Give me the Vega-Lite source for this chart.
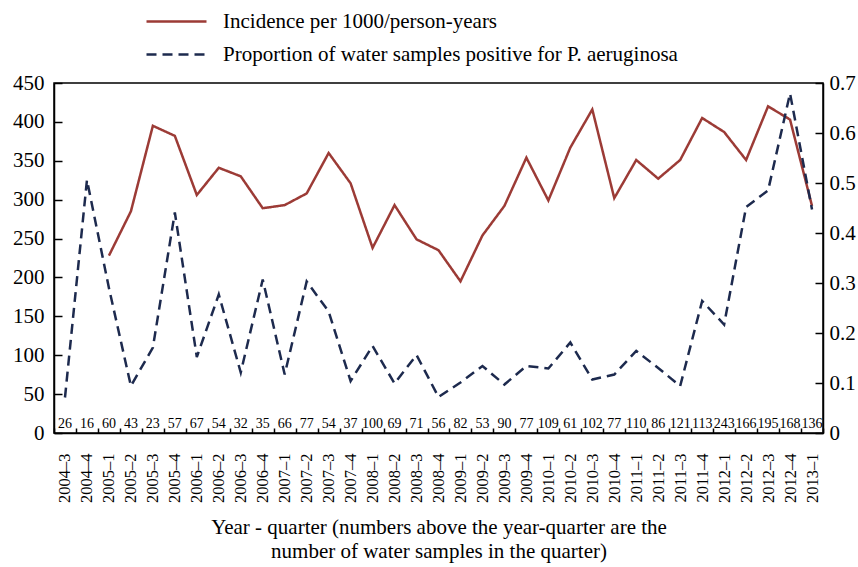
{
  "$schema": "https://vega.github.io/schema/vega-lite/v6.json",
  "width": 769,
  "height": 350,
  "autosize": "none",
  "padding": {"left": 54, "top": 83, "right": 35, "bottom": 134},
  "background": "white",
  "config": {
    "font": "Liberation Serif",
    "view": {"stroke": "black", "strokeWidth": 1.5},
    "axis": {"domainColor": "black", "tickColor": "black", "labelColor": "black", "titleColor": "black", "grid": false, "labelFont": "Liberation Serif", "titleFont": "Liberation Serif"}
  },
  "datasets": {
    "lines": [
      {"q": "2005–1", "series": "Incidence per 1000/person-years", "value": 228},
      {"q": "2005–2", "series": "Incidence per 1000/person-years", "value": 285},
      {"q": "2005–3", "series": "Incidence per 1000/person-years", "value": 395},
      {"q": "2005–4", "series": "Incidence per 1000/person-years", "value": 382},
      {"q": "2006–1", "series": "Incidence per 1000/person-years", "value": 306},
      {"q": "2006–2", "series": "Incidence per 1000/person-years", "value": 341},
      {"q": "2006–3", "series": "Incidence per 1000/person-years", "value": 330},
      {"q": "2006–4", "series": "Incidence per 1000/person-years", "value": 289},
      {"q": "2007–1", "series": "Incidence per 1000/person-years", "value": 293},
      {"q": "2007–2", "series": "Incidence per 1000/person-years", "value": 308},
      {"q": "2007–3", "series": "Incidence per 1000/person-years", "value": 360},
      {"q": "2007–4", "series": "Incidence per 1000/person-years", "value": 321},
      {"q": "2008–1", "series": "Incidence per 1000/person-years", "value": 238},
      {"q": "2008–2", "series": "Incidence per 1000/person-years", "value": 293},
      {"q": "2008–3", "series": "Incidence per 1000/person-years", "value": 249},
      {"q": "2008–4", "series": "Incidence per 1000/person-years", "value": 235},
      {"q": "2009–1", "series": "Incidence per 1000/person-years", "value": 195},
      {"q": "2009–2", "series": "Incidence per 1000/person-years", "value": 254},
      {"q": "2009–3", "series": "Incidence per 1000/person-years", "value": 292},
      {"q": "2009–4", "series": "Incidence per 1000/person-years", "value": 354},
      {"q": "2010–1", "series": "Incidence per 1000/person-years", "value": 299},
      {"q": "2010–2", "series": "Incidence per 1000/person-years", "value": 367},
      {"q": "2010–3", "series": "Incidence per 1000/person-years", "value": 416},
      {"q": "2010–4", "series": "Incidence per 1000/person-years", "value": 302},
      {"q": "2011–1", "series": "Incidence per 1000/person-years", "value": 351},
      {"q": "2011–2", "series": "Incidence per 1000/person-years", "value": 327},
      {"q": "2011–3", "series": "Incidence per 1000/person-years", "value": 351},
      {"q": "2011–4", "series": "Incidence per 1000/person-years", "value": 405},
      {"q": "2012–1", "series": "Incidence per 1000/person-years", "value": 387},
      {"q": "2012–2", "series": "Incidence per 1000/person-years", "value": 351},
      {"q": "2012–3", "series": "Incidence per 1000/person-years", "value": 420},
      {"q": "2012–4", "series": "Incidence per 1000/person-years", "value": 403},
      {"q": "2013–1", "series": "Incidence per 1000/person-years", "value": 292},
      {"q": "2004–3", "series": "Proportion of water samples positive for P. aeruginosa", "value": 0.071},
      {"q": "2004–4", "series": "Proportion of water samples positive for P. aeruginosa", "value": 0.506},
      {"q": "2005–1", "series": "Proportion of water samples positive for P. aeruginosa", "value": 0.29},
      {"q": "2005–2", "series": "Proportion of water samples positive for P. aeruginosa", "value": 0.094},
      {"q": "2005–3", "series": "Proportion of water samples positive for P. aeruginosa", "value": 0.171},
      {"q": "2005–4", "series": "Proportion of water samples positive for P. aeruginosa", "value": 0.441},
      {"q": "2006–1", "series": "Proportion of water samples positive for P. aeruginosa", "value": 0.152},
      {"q": "2006–2", "series": "Proportion of water samples positive for P. aeruginosa", "value": 0.277},
      {"q": "2006–3", "series": "Proportion of water samples positive for P. aeruginosa", "value": 0.121},
      {"q": "2006–4", "series": "Proportion of water samples positive for P. aeruginosa", "value": 0.307},
      {"q": "2007–1", "series": "Proportion of water samples positive for P. aeruginosa", "value": 0.117},
      {"q": "2007–2", "series": "Proportion of water samples positive for P. aeruginosa", "value": 0.303},
      {"q": "2007–3", "series": "Proportion of water samples positive for P. aeruginosa", "value": 0.243},
      {"q": "2007–4", "series": "Proportion of water samples positive for P. aeruginosa", "value": 0.104},
      {"q": "2008–1", "series": "Proportion of water samples positive for P. aeruginosa", "value": 0.174},
      {"q": "2008–2", "series": "Proportion of water samples positive for P. aeruginosa", "value": 0.099},
      {"q": "2008–3", "series": "Proportion of water samples positive for P. aeruginosa", "value": 0.156},
      {"q": "2008–4", "series": "Proportion of water samples positive for P. aeruginosa", "value": 0.072},
      {"q": "2009–1", "series": "Proportion of water samples positive for P. aeruginosa", "value": 0.101},
      {"q": "2009–2", "series": "Proportion of water samples positive for P. aeruginosa", "value": 0.134},
      {"q": "2009–3", "series": "Proportion of water samples positive for P. aeruginosa", "value": 0.097},
      {"q": "2009–4", "series": "Proportion of water samples positive for P. aeruginosa", "value": 0.134},
      {"q": "2010–1", "series": "Proportion of water samples positive for P. aeruginosa", "value": 0.129},
      {"q": "2010–2", "series": "Proportion of water samples positive for P. aeruginosa", "value": 0.181},
      {"q": "2010–3", "series": "Proportion of water samples positive for P. aeruginosa", "value": 0.107},
      {"q": "2010–4", "series": "Proportion of water samples positive for P. aeruginosa", "value": 0.117},
      {"q": "2011–1", "series": "Proportion of water samples positive for P. aeruginosa", "value": 0.164},
      {"q": "2011–2", "series": "Proportion of water samples positive for P. aeruginosa", "value": 0.13},
      {"q": "2011–3", "series": "Proportion of water samples positive for P. aeruginosa", "value": 0.094},
      {"q": "2011–4", "series": "Proportion of water samples positive for P. aeruginosa", "value": 0.264},
      {"q": "2012–1", "series": "Proportion of water samples positive for P. aeruginosa", "value": 0.217},
      {"q": "2012–2", "series": "Proportion of water samples positive for P. aeruginosa", "value": 0.452},
      {"q": "2012–3", "series": "Proportion of water samples positive for P. aeruginosa", "value": 0.485},
      {"q": "2012–4", "series": "Proportion of water samples positive for P. aeruginosa", "value": 0.679},
      {"q": "2013–1", "series": "Proportion of water samples positive for P. aeruginosa", "value": 0.447}
    ],
    "counts": [
      {"q": "2004–3", "n": 26}, {"q": "2004–4", "n": 16}, {"q": "2005–1", "n": 60}, {"q": "2005–2", "n": 43},
      {"q": "2005–3", "n": 23}, {"q": "2005–4", "n": 57}, {"q": "2006–1", "n": 67}, {"q": "2006–2", "n": 54},
      {"q": "2006–3", "n": 32}, {"q": "2006–4", "n": 35}, {"q": "2007–1", "n": 66}, {"q": "2007–2", "n": 77},
      {"q": "2007–3", "n": 54}, {"q": "2007–4", "n": 37}, {"q": "2008–1", "n": 100}, {"q": "2008–2", "n": 69},
      {"q": "2008–3", "n": 71}, {"q": "2008–4", "n": 56}, {"q": "2009–1", "n": 82}, {"q": "2009–2", "n": 53},
      {"q": "2009–3", "n": 90}, {"q": "2009–4", "n": 77}, {"q": "2010–1", "n": 109}, {"q": "2010–2", "n": 61},
      {"q": "2010–3", "n": 102}, {"q": "2010–4", "n": 77}, {"q": "2011–1", "n": 110}, {"q": "2011–2", "n": 86},
      {"q": "2011–3", "n": 121}, {"q": "2011–4", "n": 113}, {"q": "2012–1", "n": 243}, {"q": "2012–2", "n": 166},
      {"q": "2012–3", "n": 195}, {"q": "2012–4", "n": 168}, {"q": "2013–1", "n": 136}
    ]
  },
  "encoding": {
    "x": {
      "field": "q", "type": "nominal",
      "scale": {"type": "band", "paddingInner": 0, "paddingOuter": 0},
      "axis": {
        "labelAngle": -90, "labelFontSize": 16.5, "labelPadding": 25, "tickSize": -5, "tickBand": "extent", "tickWidth": 1.5, "domainWidth": 1.5,
        "title": ["Year - quarter (numbers above the year-quarter are the", "number of water samples in the quarter)"],
        "titleFontSize": 21, "titleFontWeight": "normal", "titlePadding": 14, "titleLineHeight": 24
      }
    }
  },
  "layer": [
    {
      "data": {"name": "lines"},
      "transform": [{"filter": "datum.series === 'Incidence per 1000/person-years'"}],
      "mark": {"type": "line", "strokeWidth": 2.5},
      "encoding": {
        "y": {"field": "value", "type": "quantitative", "scale": {"domain": [0, 450]},
          "axis": {"title": null, "orient": "left", "values": [0,50,100,150,200,250,300,350,400,450], "labelFontSize": 21, "tickSize": -8, "tickWidth": 1.5, "domainWidth": 1.5, "labelPadding": 18}},
        "color": {"field": "series", "type": "nominal",
          "scale": {"domain": ["Incidence per 1000/person-years", "Proportion of water samples positive for P. aeruginosa"], "range": ["#9c3b36", "#1d2a4e"]},
          "legend": {"title": null, "orient": "none", "legendX": 106, "legendY": -78, "symbolType": "M-2,0H2", "symbolSize": 900, "symbolStrokeWidth": 2.5, "labelFontSize": 21, "labelFont": "Liberation Serif", "labelColor": "black", "labelOffset": 30, "rowPadding": 6, "labelLimit": 700}},
        "strokeDash": {"field": "series", "type": "nominal",
          "scale": {"domain": ["Incidence per 1000/person-years", "Proportion of water samples positive for P. aeruginosa"], "range": [[1, 0], [10, 6]]},
          "legend": {"title": null, "orient": "none", "legendX": 106, "legendY": -78, "symbolType": "M-2,0H2", "symbolSize": 900, "symbolStrokeWidth": 2.5, "labelFontSize": 21, "labelFont": "Liberation Serif", "labelColor": "black", "labelOffset": 30, "rowPadding": 6, "labelLimit": 700}}
      }
    },
    {
      "data": {"name": "lines"},
      "transform": [{"filter": "datum.series !== 'Incidence per 1000/person-years'"}],
      "mark": {"type": "line", "strokeWidth": 2.5},
      "encoding": {
        "y": {"field": "value", "type": "quantitative", "scale": {"domain": [0, 0.7]},
          "axis": {"title": null, "orient": "right", "values": [0,0.1,0.2,0.3,0.4,0.5,0.6,0.7], "labelExpr": "datum.value == 0 ? '0' : format(datum.value, '.1f')", "labelFontSize": 21, "tickSize": -8, "tickWidth": 1.5, "domainWidth": 1.5, "labelPadding": 14}},
        "color": {"field": "series", "type": "nominal"},
        "strokeDash": {"field": "series", "type": "nominal"}
      }
    },
    {
      "data": {"name": "counts"},
      "mark": {"type": "text", "fontSize": 14, "baseline": "middle", "font": "Liberation Serif", "color": "black"},
      "encoding": {
        "y": {"datum": 12, "type": "quantitative", "scale": {"domain": [0, 450]}, "axis": null},
        "text": {"field": "n", "type": "quantitative"}
      }
    }
  ],
  "resolve": {"scale": {"y": "independent"}}
}
